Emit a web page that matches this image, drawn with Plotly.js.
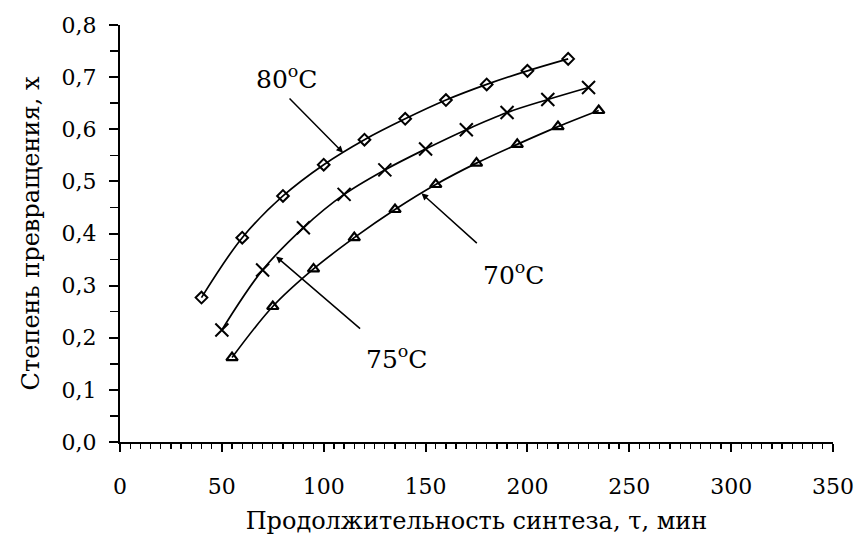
<!DOCTYPE html>
<html>
<head>
<meta charset="utf-8">
<script src="https://cdn.plot.ly/plotly-3.0.1.min.js"></script>
<style>html,body{margin:0;padding:0;background:#fff;}#chart{width:860px;height:541px;}</style>
</head>
<body>
<div id="chart"></div>
<script>
// Data
const time80 = [40, 60, 80, 100, 120, 140, 160, 180, 200, 220];
const conv80 = [0.277, 0.392, 0.472, 0.532, 0.580, 0.620, 0.656, 0.686, 0.712, 0.735];

const time75 = [50, 70, 90, 110, 130, 150, 170, 190, 210, 230];
const conv75 = [0.215, 0.330, 0.411, 0.475, 0.522, 0.562, 0.599, 0.632, 0.657, 0.680];

const time70 = [55, 75, 95, 115, 135, 155, 175, 195, 215, 235];
const conv70 = [0.162, 0.260, 0.332, 0.392, 0.446, 0.494, 0.535, 0.571, 0.605, 0.636];

const seriesLabels = ['80<sup>o</sup>C', '75<sup>o</sup>C', '70<sup>o</sup>C'];
const xTickVals = [0, 50, 100, 150, 200, 250, 300, 350];
const xTickText = ['0', '50', '100', '150', '200', '250', '300', '350'];
const yTickVals = [0, 0.1, 0.2, 0.3, 0.4, 0.5, 0.6, 0.7, 0.8];
const yTickText = ['0,0', '0,1', '0,2', '0,3', '0,4', '0,5', '0,6', '0,7', '0,8'];
const xTitle = 'Продолжительность синтеза, τ, мин';
const yTitle = 'Степень превращения, x';

const FONT = 'DejaVu Serif, Liberation Serif, serif';

const traces = [
  {x: time80, y: conv80, mode: 'lines+markers', name: seriesLabels[0],
   line: {color: '#000', width: 1.7, shape: 'spline'},
   marker: {symbol: 'diamond-open', size: 9, color: '#000', line: {width: 2, color: '#000'}}},
  {x: time75, y: conv75, mode: 'lines+markers', name: seriesLabels[1],
   line: {color: '#000', width: 1.7, shape: 'spline'},
   marker: {symbol: 'x-thin-open', size: 13, color: '#000', line: {width: 2, color: '#000'}}},
  {x: time70, y: conv70, mode: 'lines+markers', name: seriesLabels[2],
   line: {color: '#000', width: 1.7, shape: 'spline'},
   marker: {symbol: 'triangle-up-open', size: 10, color: '#000', line: {width: 2.2, color: '#000'}}}
];

const arrowStyle = {showarrow: true, arrowhead: 2, arrowsize: 0.9, arrowwidth: 1.5, arrowcolor: '#000',
  axref: 'x', ayref: 'y', xref: 'x', yref: 'y', text: '', font: {size: 12}};

const layout = {
  width: 860, height: 541,
  margin: {l: 120, r: 27, t: 25, b: 99},
  paper_bgcolor: '#fff', plot_bgcolor: '#fff',
  showlegend: false,
  font: {family: FONT, color: '#000', size: 22},
  xaxis: {
    range: [0, 350], tickvals: xTickVals, ticktext: xTickText,
    showgrid: false, zeroline: false, showline: true, linecolor: '#000', linewidth: 2,
    ticks: 'outside', ticklen: 8, tickwidth: 2, tickcolor: '#000',
    minor: {dtick: 5, ticks: 'outside', ticklen: 5, tickwidth: 1.3, tickcolor: '#000', showgrid: false},
    tickfont: {family: FONT, size: 22}, ticklabelstandoff: 16,
    title: {text: xTitle, font: {family: FONT, size: 24}, standoff: 14}
  },
  yaxis: {
    range: [0, 0.8], tickvals: yTickVals, ticktext: yTickText,
    showgrid: false, zeroline: false, showline: true, linecolor: '#000', linewidth: 2,
    ticks: 'outside', ticklen: 9, tickwidth: 2, tickcolor: '#000',
    minor: {dtick: 0.05, tick0: 0, ticks: 'outside', ticklen: 8, tickwidth: 1.5, tickcolor: '#000', showgrid: false},
    tickfont: {family: FONT, size: 22}, ticklabelstandoff: 8,
    title: {text: yTitle, font: {family: FONT, size: 24}, standoff: 15}
  },
  annotations: [
    Object.assign({}, arrowStyle, {x: 109.5, y: 0.555, ax: 82.5, ay: 0.662}),
    Object.assign({}, arrowStyle, {x: 76.6, y: 0.356, ax: 118.6, ay: 0.215}),
    Object.assign({}, arrowStyle, {x: 148, y: 0.477, ax: 175.9, ay: 0.379}),
    {x: 82, y: 0.70, xref: 'x', yref: 'y', text: seriesLabels[0], showarrow: false, font: {family: FONT, size: 25}},
    {x: 136, y: 0.162, xref: 'x', yref: 'y', text: seriesLabels[1], showarrow: false, font: {family: FONT, size: 25}},
    {x: 193.4, y: 0.324, xref: 'x', yref: 'y', text: seriesLabels[2], showarrow: false, font: {family: FONT, size: 25}}
  ]
};

Plotly.newPlot('chart', traces, layout, {displayModeBar: false, staticPlot: true});
</script>
</body>
</html>
